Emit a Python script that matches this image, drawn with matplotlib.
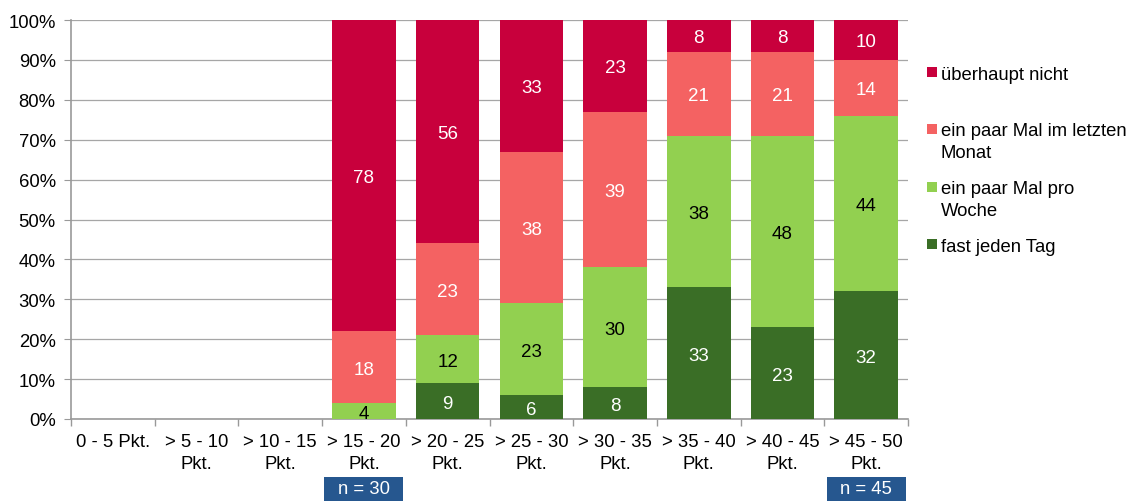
import matplotlib
matplotlib.use("Agg")
import matplotlib.pyplot as plt
import matplotlib.transforms as mtransforms
from matplotlib.patches import Rectangle
import numpy as np

plt.rcParams['font.family'] = ['Liberation Sans', 'DejaVu Sans']

categories = ["0 - 5 Pkt.", "> 5 - 10\nPkt.", "> 10 - 15\nPkt.", "> 15 - 20\nPkt.",
              "> 20 - 25\nPkt.", "> 25 - 30\nPkt.", "> 30 - 35\nPkt.", "> 35 - 40\nPkt.",
              "> 40 - 45\nPkt.", "> 45 - 50\nPkt."]

fast_jeden_tag = [0, 0, 0, 0, 9, 6, 8, 33, 23, 32]
pro_woche = [0, 0, 0, 4, 12, 23, 30, 38, 48, 44]
letzter_monat = [0, 0, 0, 18, 23, 38, 39, 21, 21, 14]
ueberhaupt_nicht = [0, 0, 0, 78, 56, 33, 23, 8, 8, 10]

series = [
    ("fast jeden Tag", fast_jeden_tag, "#3A6E26", "white"),
    ("ein paar Mal pro\nWoche", pro_woche, "#92D050", "black"),
    ("ein paar Mal im letzten\nMonat", letzter_monat, "#F46262", "white"),
    ("überhaupt nicht", ueberhaupt_nicht, "#C8003C", "white"),
]

sample_sizes = {3: "n = 30", 9: "n = 45"}

FS = 13.3
W, H = 1128, 502
fig = plt.figure(figsize=(W / 100, H / 100), dpi=100)
ax = fig.add_axes([71 / W, 1 - 420 / H, (908 - 71) / W, (420 - 21) / H])

# value labels sit a touch below the geometric centre of each segment
label_tr = mtransforms.offset_copy(ax.transData, fig=fig, x=0, y=-2, units="dots")

x = np.arange(len(categories))
bottom = np.zeros(len(categories))
for name, vals, color, tcolor in series:
    vals = np.array(vals, dtype=float)
    ax.bar(x, vals, bottom=bottom, width=0.76, color=color,
           linewidth=0, label=name, zorder=3)
    for xi, v, b in zip(x, vals, bottom):
        if v > 0:
            ax.text(xi, b + v / 2, f"{int(v)}", ha="center", va="center",
                    fontsize=13.5, color=tcolor, zorder=4, transform=label_tr)
    bottom += vals

ax.set_xlim(-0.5, len(categories) - 0.5)
ax.set_ylim(0, 100)
ax.set_yticks(np.arange(0, 101, 10))
ax.set_yticklabels([f"{t}%" for t in range(0, 101, 10)])
ax.yaxis.grid(True, color="#A6A6A6", linewidth=0.9, zorder=0)
ax.set_axisbelow(True)

ax.set_xticks(x)
ax.set_xticklabels(categories, fontsize=FS, linespacing=1.36)
ax.set_xticks(np.arange(-0.5, len(categories), 1), minor=True)
ax.tick_params(axis="x", which="major", length=0, pad=10)
ax.tick_params(axis="x", which="minor", length=5, color="#999999", width=1, direction="out")
ax.tick_params(axis="y", length=5, color="#999999", labelsize=FS, pad=6)

for side in ("top", "right"):
    ax.spines[side].set_visible(False)
for side in ("left", "bottom"):
    ax.spines[side].set_color("#999999")
    ax.spines[side].set_linewidth(1.2)

# sample-size boxes below selected categories
cat_w = (908 - 71) / len(categories)
for idx, label in sample_sizes.items():
    cx = 71 + (idx + 0.5) * cat_w
    bw, top, bot = 79, 478, 503
    fig.patches.append(Rectangle(((cx - bw / 2) / W, 1 - bot / H), bw / W, (bot - top) / H,
                                 transform=fig.transFigure, facecolor="#26578F",
                                 edgecolor="none"))
    fig.text(cx / W, 1 - 490 / H, label, ha="center", va="center",
             fontsize=FS, color="white")

# legend drawn item by item: (lines, colour, y of each line in pixels)
legend_rows = [
    (["überhaupt nicht"], "#C8003C", [73]),
    (["ein paar Mal im letzten", "Monat"], "#F46262", [130, 152]),
    (["ein paar Mal pro", "Woche"], "#92D050", [188, 209]),
    (["fast jeden Tag"], "#3A6E26", [245]),
]
for lines, color, ys in legend_rows:
    sq = 9.5
    fig.patches.append(Rectangle((927 / W, 1 - (ys[0] + sq / 2) / H), sq / W, sq / H,
                                 transform=fig.transFigure, facecolor=color,
                                 edgecolor="none"))
    for line, ypx in zip(lines, ys):
        fig.text(941 / W, 1 - ypx / H, line, ha="left", va="center_baseline",
                 fontsize=FS, color="black")

fig.savefig("out.png", dpi=100)
